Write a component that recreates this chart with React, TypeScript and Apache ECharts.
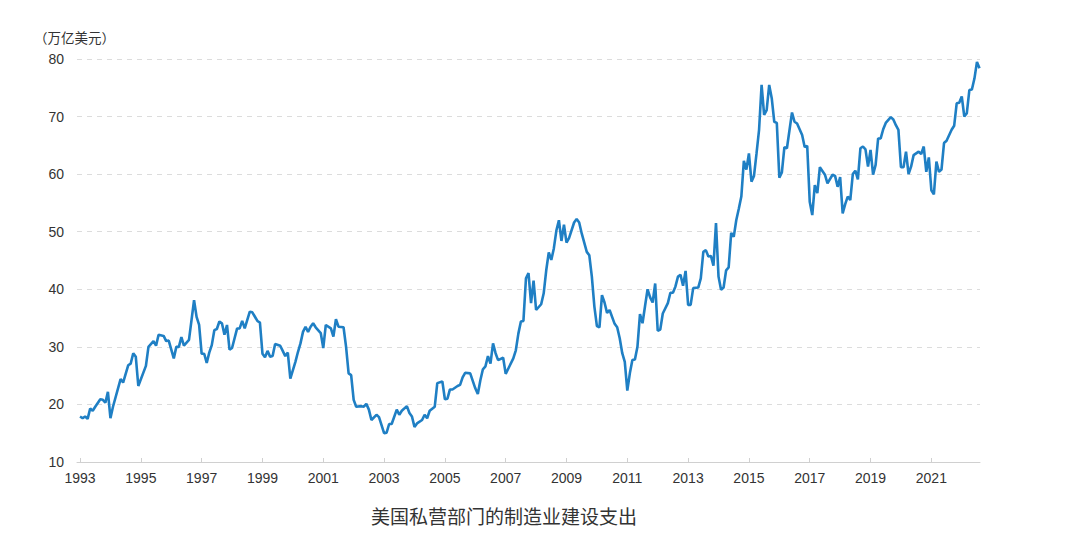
import React, { useEffect, useRef } from "react";
import * as echarts from "echarts";

const dates: string[] = [
  "1993-01","1993-02","1993-03","1993-04","1993-05","1993-06","1993-07","1993-09","1993-10","1993-11","1993-12",
  "1994-01","1994-02","1994-05","1994-06","1994-08","1994-09","1994-10","1994-11","1994-12",
  "1995-03","1995-04","1995-06","1995-07","1995-08","1995-10","1995-11","1995-12",
  "1996-02","1996-03","1996-04","1996-05","1996-06","1996-08","1996-10","1996-11","1996-12",
  "1997-01","1997-02","1997-03","1997-04","1997-05","1997-06","1997-07","1997-08","1997-09","1997-10","1997-11","1997-12",
  "1998-01","1998-03","1998-04","1998-05","1998-06","1998-08","1998-09","1998-11","1998-12",
  "1999-01","1999-02","1999-03","1999-04","1999-05","1999-06","1999-08","1999-09","1999-10","1999-11","1999-12",
  "2000-02","2000-03","2000-04","2000-05","2000-06","2000-07","2000-08","2000-09","2000-10","2000-12",
  "2001-01","2001-02","2001-04","2001-05","2001-06","2001-07","2001-09","2001-10","2001-11","2001-12",
  "2002-01","2002-02","2002-04","2002-05","2002-06","2002-07","2002-08","2002-10","2002-11",
  "2003-01","2003-02","2003-03","2003-04","2003-06","2003-07","2003-08","2003-10","2003-11","2003-12",
  "2004-01","2004-02","2004-04","2004-05","2004-06","2004-07","2004-09","2004-10","2004-12",
  "2005-01","2005-02","2005-03","2005-04","2005-06","2005-07","2005-08","2005-09","2005-11",
  "2006-01","2006-02","2006-03","2006-04","2006-05","2006-06","2006-07","2006-08","2006-09","2006-10","2006-12",
  "2007-01","2007-02","2007-04","2007-05","2007-06","2007-07","2007-08","2007-09","2007-10","2007-11","2007-12",
  "2008-01","2008-03","2008-04","2008-05","2008-06","2008-07","2008-08","2008-09","2008-10","2008-11","2008-12",
  "2009-01","2009-02","2009-04","2009-05","2009-06","2009-07","2009-09","2009-10","2009-11","2009-12",
  "2010-01","2010-02","2010-03","2010-04","2010-05","2010-06","2010-08","2010-09","2010-10","2010-11","2010-12",
  "2011-01","2011-02","2011-03","2011-04","2011-05","2011-06","2011-07","2011-08","2011-09","2011-10","2011-11","2011-12",
  "2012-01","2012-02","2012-03","2012-05","2012-06","2012-07","2012-08","2012-09","2012-10","2012-11","2012-12",
  "2013-01","2013-02","2013-03","2013-05","2013-06","2013-07","2013-08","2013-09","2013-10","2013-11","2013-12",
  "2014-01","2014-02","2014-03","2014-04","2014-05","2014-06","2014-07","2014-08","2014-09","2014-10","2014-11","2014-12",
  "2015-01","2015-02","2015-03","2015-04","2015-05","2015-06","2015-07","2015-08","2015-09","2015-10","2015-11","2015-12",
  "2016-01","2016-02","2016-03","2016-04","2016-06","2016-07","2016-08","2016-10","2016-11","2016-12",
  "2017-01","2017-02","2017-03","2017-04","2017-05","2017-07","2017-08","2017-10","2017-11","2017-12",
  "2018-01","2018-02","2018-03","2018-04","2018-05","2018-06","2018-07","2018-08","2018-09","2018-10","2018-11","2018-12",
  "2019-01","2019-02","2019-03","2019-04","2019-05","2019-06","2019-07","2019-09","2019-10","2019-11","2019-12",
  "2020-01","2020-02","2020-03","2020-04","2020-05","2020-06","2020-08","2020-09","2020-10","2020-11","2020-12",
  "2021-01","2021-02","2021-03","2021-04","2021-05","2021-06","2021-07","2021-09","2021-10","2021-11","2021-12",
  "2022-01","2022-02","2022-03","2022-04","2022-05","2022-06","2022-07","2022-08",
];

const spending: number[] = [
  17.9,17.6,17.9,17.5,19.3,18.9,19.6,20.9,20.8,20.3,22.2,
  17.6,19.6,24.4,23.8,26.8,27.1,28.9,28.3,23.2,
  26.7,30.0,31.0,30.2,32.1,31.9,31.0,31.1,
  28.0,30.0,30.0,31.7,30.2,31.2,38.1,35.2,33.8,
  28.8,28.8,27.2,29.0,30.3,32.9,33.1,34.4,34.1,32.1,33.8,29.5,
  29.8,33.2,33.2,34.5,33.2,36.1,36.0,34.5,34.2,
  28.8,28.2,29.3,28.3,28.4,30.5,30.2,29.3,28.4,29.0,24.5,
  27.4,29.1,30.6,32.6,33.5,32.6,33.5,34.1,33.4,32.4,
  29.8,33.8,33.2,31.8,34.8,33.5,33.4,30.0,25.4,25.1,
  20.8,19.6,19.7,19.6,20.1,19.1,17.3,18.2,17.8,
  15.0,15.1,16.6,16.6,19.1,18.2,18.9,19.7,18.5,17.9,
  16.1,16.7,17.3,18.2,17.6,18.9,19.6,23.7,24.0,
  20.9,21.0,22.6,22.6,23.2,23.4,24.7,25.5,25.4,
  22.8,21.8,24.2,26.1,26.6,28.4,27.1,30.6,28.9,27.7,28.1,
  25.3,26.2,28.0,29.4,32.3,34.4,34.5,41.9,42.8,37.6,41.5,
  36.4,37.4,39.3,43.3,46.4,45.1,47.1,50.2,52.0,48.4,51.2,
  48.1,48.9,51.6,52.2,51.6,49.7,46.5,45.9,42.2,37.0,
  33.6,33.4,39.0,37.7,35.9,36.4,34.0,33.4,31.5,28.9,27.4,
  22.4,25.4,27.7,27.8,30.0,35.7,34.1,37.1,40.0,38.6,37.7,41.0,
  32.8,33.0,35.8,37.6,39.4,39.4,40.5,42.2,42.5,40.6,43.2,
  37.3,37.3,40.2,40.3,41.9,46.5,46.8,45.7,45.8,44.1,51.5,
  42.2,39.9,40.3,43.3,43.8,49.8,49.1,52.0,54.0,56.1,62.3,60.8,
  63.6,58.7,59.7,63.6,67.7,75.5,70.3,71.1,75.5,73.2,69.1,68.9,
  59.4,60.3,64.7,64.5,70.7,69.1,68.8,66.8,64.7,64.9,
  55.2,52.9,58.1,56.7,61.2,59.9,58.4,59.9,59.7,57.8,
  59.5,53.2,54.8,56.1,55.5,60.0,60.6,59.1,64.5,64.8,64.3,61.3,
  64.2,59.9,61.6,66.2,66.2,67.8,68.9,69.9,69.5,68.5,67.7,
  61.2,61.2,63.9,60.0,61.3,63.3,63.9,63.5,64.8,60.4,62.9,
  57.2,56.5,62.2,60.4,60.8,65.4,65.8,67.7,68.4,72.3,72.4,
  73.5,70.0,70.6,74.6,74.7,76.6,79.5,78.4,
];

const yearTicks: number[] = [1993,1995,1997,1999,2001,2003,2005,2007,2009,2011,2013,2015,2017,2019,2021];

const unitLabel = "（万亿美元）";
const chartTitle = "美国私营部门的制造业建设支出";

const toYear = (d: string) => {
  const [y, m] = d.split("-").map(Number);
  return y + (m - 1) / 12;
};

export default function App() {
  const ref = useRef<HTMLDivElement>(null);
  useEffect(() => {
    if (!ref.current) return;
    const chart = echarts.init(ref.current, undefined, { renderer: "svg" });
    const seriesData = dates.map((d, i) => [toYear(d), spending[i]]);
    const numFont = "'Liberation Sans', 'Noto Sans CJK SC', sans-serif";
    const cjkFont = "'Noto Sans CJK SC', sans-serif";
    chart.setOption({
      animation: false,
      backgroundColor: "#ffffff",
      title: [
        {
          text: chartTitle,
          left: 371,
          top: 506,
          textStyle: { fontFamily: cjkFont, fontSize: 19, fontWeight: "normal", color: "#333333" },
          padding: 0,
        },
        {
          text: unitLabel,
          left: 34,
          top: 30,
          textStyle: { fontFamily: cjkFont, fontSize: 13.5, fontWeight: "normal", color: "#333333" },
          padding: 0,
        },
      ],
      grid: { left: 77, right: 100, top: 59, bottom: 83, containLabel: false },
      xAxis: {
        type: "value",
        min: 1992.9,
        max: 2022.6,
        splitLine: { show: false },
        axisLine: { show: true, lineStyle: { color: "#d0d0d0", width: 1 } },
        axisTick: {
          show: true,
          inside: true,
          length: 4,
          customValues: yearTicks,
          lineStyle: { color: "#d0d0d0" },
        },
        axisLabel: {
          customValues: yearTicks,
          formatter: (v: number) => String(Math.round(v)),
          fontFamily: numFont,
          fontSize: 14,
          color: "#333333",
          margin: 9,
        },
      },
      yAxis: {
        type: "value",
        min: 10,
        max: 80,
        interval: 10,
        axisLine: { show: false },
        axisTick: { show: false },
        splitLine: { show: true, lineStyle: { color: "#dcdcdc", type: [5, 5], width: 1 } },
        axisLabel: { fontFamily: numFont, fontSize: 14, color: "#333333", margin: 13 },
      },
      series: [
        {
          type: "line",
          data: seriesData,
          showSymbol: false,
          symbol: "none",
          lineStyle: { color: "#1f7fc4", width: 2.6 },
          itemStyle: { color: "#1f7fc4" },
        },
      ],
    });
    return () => chart.dispose();
  }, []);
  return (
    <div
      ref={ref}
      style={{ position: "absolute", left: 0, top: 0, width: 1080, height: 545 }}
    />
  );
}
